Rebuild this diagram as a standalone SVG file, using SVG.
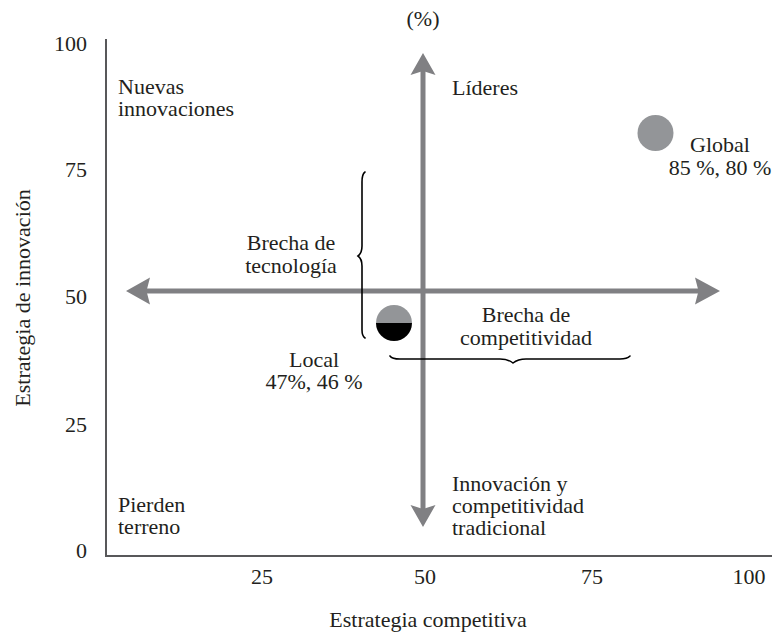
<svg xmlns="http://www.w3.org/2000/svg" width="776" height="633" viewBox="0 0 776 633">
<style>
text{font-family:"Liberation Serif","Times New Roman",serif;font-size:22px;fill:#231f20}
.m{text-anchor:middle}
.e{text-anchor:end}
.axis{stroke:#58585a;stroke-width:2;fill:none}
.shaft{stroke:#808083;stroke-width:5;fill:none}
.head{fill:#808083}
.brace{stroke:#000;stroke-width:1.6;fill:none;stroke-linecap:round}
</style>
<rect width="776" height="633" fill="#fff"/>
<g id="axes">
<path class="axis" d="M106 39 V556 H772"/>
<text class="e" x="87" y="51">100</text>
<text class="e" x="87" y="177">75</text>
<text class="e" x="87" y="304">50</text>
<text class="e" x="87" y="432">25</text>
<text class="e" x="87" y="558">0</text>
<text class="m" x="262" y="584">25</text>
<text class="m" x="425" y="584">50</text>
<text class="m" x="592" y="584">75</text>
<text class="m" x="749" y="584">100</text>
<text class="m" x="428" y="627">Estrategia competitiva</text>
<text class="m" transform="translate(30 298) rotate(-90)">Estrategia de innovación</text>
<text class="m" x="423" y="26">(%)</text>
</g>
<g id="connectors">
<line class="shaft" x1="146" y1="291" x2="699" y2="291"/>
<line class="shaft" x1="423" y1="71" x2="423" y2="509"/>
<path class="head" d="M126 291 L150 277.5 L146.5 291 L150 304.5 Z"/>
<path class="head" d="M720 291 L695 277.5 L698.5 291 L695 304.5 Z"/>
<path class="head" d="M423 53 L410.5 75 L423 71 L435.5 75 Z"/>
<path class="head" d="M423 527 L410.5 505 L423 509 L435.5 505 Z"/>
<path class="brace" d="M365 172 Q362 174 362 182 L362 246 Q362 253 358 256 Q362 259 362 266 L362 330 Q362 336 365 338"/>
<path class="brace" d="M390 356 Q392 359 400 359 L500 359 Q508 359 513 363 Q518 359 526 359 L620 359 Q627 359 630 356"/>
</g>
<g id="nuevas">
<text x="118" y="94">Nuevas</text>
<text x="118" y="116">innovaciones</text>
</g>
<g id="lideres">
<text x="452" y="95">Líderes</text>
</g>
<g id="global">
<circle cx="655.5" cy="133" r="18" fill="#939598"/>
<text class="m" x="720" y="152">Global</text>
<text class="m" x="720" y="175">85 %, 80 %</text>
</g>
<g id="brecha-tecnologia">
<text class="m" x="291" y="250">Brecha de</text>
<text class="m" x="291" y="273">tecnología</text>
</g>
<g id="brecha-competitividad">
<text class="m" x="526" y="322">Brecha de</text>
<text class="m" x="526" y="345">competitividad</text>
</g>
<g id="local">
<path d="M376 323 A18 18 0 0 1 412 323 Z" fill="#939598"/>
<path d="M376 323 A18 18 0 0 0 412 323 Z" fill="#000"/>
<text class="m" x="314" y="367">Local</text>
<text class="m" x="314" y="389">47%, 46 %</text>
</g>
<g id="innovacion">
<text x="452" y="491">Innovación y</text>
<text x="452" y="513">competitividad</text>
<text x="452" y="535">tradicional</text>
</g>
<g id="pierden">
<text x="118" y="512">Pierden</text>
<text x="118" y="534">terreno</text>
</g>
</svg>
